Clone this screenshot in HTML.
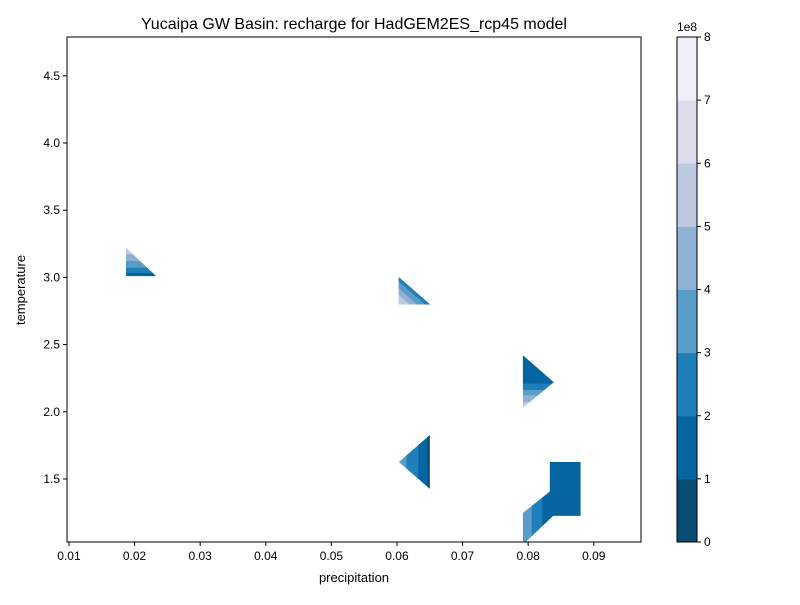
<!DOCTYPE html>
<html><head><meta charset="utf-8"><style>
body{margin:0;background:#fff}
svg text{font-family:"Liberation Sans",sans-serif;fill:#000}
</style></head><body>
<svg id="chart" width="800" height="600" xmlns="http://www.w3.org/2000/svg">
<rect width="800" height="600" fill="#fff"/>
<text x="354" y="29" text-anchor="middle" font-size="16">Yucaipa GW Basin: recharge for HadGEM2ES_rcp45 model</text>
<g id="plot"></g>
<g id="axes"></g>
<g id="cbar"></g>
<text x="354" y="582" text-anchor="middle" font-size="13">precipitation</text>
<text transform="translate(25,290) rotate(-90)" text-anchor="middle" font-size="13">temperature</text>
</svg>
<script>
const levelColors=["#0a4a75","#0565a0","#1f7fb8","#5a9dc8","#8fb1d4","#bdc8e1","#dcdaeb","#f2eef6"];
const cbarTicks=[0,1,2,3,4,5,6,7,8];
const xTicks=[0.01,0.02,0.03,0.04,0.05,0.06,0.07,0.08,0.09];
const yTicks=[1.5,2.0,2.5,3.0,3.5,4.0,4.5];
// patches: outline polygons (data coords) with band breaks and levels
const patch1Verts=[[0.0187,3.22],[0.0187,3.01],[0.0233,3.01]];
const patch1Breaks=[3.22,3.17,3.12,3.07,3.03,3.01];
const patch1Levels=[5,4,3,2,1];
const patch2Apex=[0.0603,2.8];
const patch2Base=[[0.0603,3.0],[0.0650,2.8]];
const patch2Fracs=[0,0.35,0.6,0.85,1];
const patch2Levels=[5,4,3,2];
const patch3Verts=[[0.0792,2.42],[0.0839,2.22],[0.0792,2.03]];
const patch3Breaks=[2.42,2.207,2.16,2.12,2.07,2.03];
const patch3Levels=[1,2,3,4,5];
const patch4Verts=[[0.0650,1.827],[0.0603,1.626],[0.0650,1.426]];
const patch4Breaks=[0.0603,0.0615,0.0633,0.0647,0.0650];
const patch4Levels=[3,2,1,0];
const patch5Verts=[[0.0792,1.247],[0.0838,1.426],[0.0838,1.225],[0.0792,1.01]];
const patch5Breaks=[0.0792,0.0806,0.0822,0.0838];
const patch5Levels=[3,2,1];
const patch6Verts=[[0.0833,1.626],[0.0880,1.626],[0.0880,1.225],[0.0833,1.225]];
const patch6Levels=[1];

const X0=67,X1=641,Y0=37,Y1=542,xmin=0.0097,xmax=0.0972,ymin=1.031,ymax=4.789;
const sx=v=>X0+(v-xmin)/(xmax-xmin)*(X1-X0);
const sy=v=>Y1-(v-ymin)/(ymax-ymin)*(Y1-Y0);
const NS="http://www.w3.org/2000/svg";
const plot=document.getElementById('plot');
function mk(tag,attrs,parent){const e=document.createElementNS(NS,tag);for(const k in attrs)e.setAttribute(k,attrs[k]);parent.appendChild(e);return e;}
const ptsStr=v=>v.map(p=>sx(p[0]).toFixed(1)+','+sy(p[1]).toFixed(1)).join(' ');
let cid=0;
const defs=mk('defs',{},plot);
function clipFor(verts){const id='c'+(cid++);const cp=mk('clipPath',{id:id},defs);mk('polygon',{points:ptsStr(verts)},cp);return id;}
function yBandPatch(verts,breaks,levels,name){
  const id=clipFor(verts);const g=mk('g',{'clip-path':'url(#'+id+')'},plot);
  
  for(let i=0;i<levels.length;i++){const a=sy(breaks[i]),b=sy(breaks[i+1]);
    const r=mk('rect',{x:X0,y:Math.min(a,b)-0.3,width:X1-X0,height:Math.abs(b-a)+0.6,fill:levelColors[levels[i]]},g);
    }
}
function xBandPatch(verts,breaks,levels,name){
  const id=clipFor(verts);const g=mk('g',{'clip-path':'url(#'+id+')'},plot);
  
  for(let i=0;i<levels.length;i++){const a=sx(breaks[i]),b=sx(breaks[i+1]);
    const r=mk('rect',{x:Math.min(a,b)-0.3,y:Y0,width:Math.abs(b-a)+0.6,height:Y1-Y0,fill:levelColors[levels[i]]},g);
    }
}
function fanPatch(apex,base,fracs,levels,name){
  const g=mk('g',{},plot);
  const at=(q,t)=>[apex[0]+(q[0]-apex[0])*t,apex[1]+(q[1]-apex[1])*t];
  for(let i=0;i<levels.length;i++){const t1=fracs[i],t2=fracs[i+1];
    const v=[at(base[0],t1),at(base[0],t2),at(base[1],t2),at(base[1],t1)];
    const p=mk('polygon',{points:ptsStr(v),fill:levelColors[levels[i]],stroke:levelColors[levels[i]],'stroke-width':0.5},g);
    }
}
yBandPatch(patch1Verts,patch1Breaks,patch1Levels,'contour-patch-1');
fanPatch(patch2Apex,patch2Base,patch2Fracs,patch2Levels,'contour-patch-2');
yBandPatch(patch3Verts,patch3Breaks,patch3Levels,'contour-patch-3');
xBandPatch(patch4Verts,patch4Breaks,patch4Levels,'contour-patch-4');
xBandPatch(patch5Verts,patch5Breaks,patch5Levels,'contour-patch-5');
const sq=mk('polygon',{points:ptsStr(patch6Verts),fill:levelColors[patch6Levels[0]]},plot);



const axes=document.getElementById('axes');
const frame=mk('rect',{x:X0,y:Y0,width:X1-X0,height:Y1-Y0,fill:'none',stroke:'#000','stroke-width':1},axes);


xTicks.forEach(t=>{const x=sx(t);
  const l=mk('line',{x1:x,x2:x,y1:Y1,y2:Y1+4,stroke:'#000'},axes);
  
  const tx=mk('text',{x:x,y:Y1+18,'text-anchor':'middle','font-size':12},axes);tx.textContent=t.toFixed(2);
  });
yTicks.forEach(t=>{const y=sy(t);
  const l=mk('line',{x1:X0-4,x2:X0,y1:y,y2:y,stroke:'#000'},axes);
  
  const tx=mk('text',{x:X0-7,y:y+4,'text-anchor':'end','font-size':12},axes);tx.textContent=t.toFixed(1);
  });

const cb=document.getElementById('cbar');
const CX=677,CW=20,CT=37,CB=542,cmax=cbarTicks[cbarTicks.length-1];
const cy=v=>CB-v/cmax*(CB-CT);
for(let i=0;i<levelColors.length;i++){
  const r=mk('rect',{x:CX,y:cy(i+1),width:CW,height:cy(i)-cy(i+1)+0.5,fill:levelColors[i]},cb);
  }
const cf=mk('rect',{x:CX,y:CT,width:CW,height:CB-CT,fill:'none',stroke:'#000'},cb);


cbarTicks.forEach(t=>{const y=cy(t);
  const l=mk('line',{x1:CX+CW,x2:CX+CW+4,y1:y,y2:y,stroke:'#000'},cb);
  
  const tx=mk('text',{x:CX+CW+7,y:y+4,'font-size':12},cb);tx.textContent=t;
  });
const ex=mk('text',{x:677,y:31,'font-size':12},cb);ex.textContent='1e8';


</script>
</body></html>
